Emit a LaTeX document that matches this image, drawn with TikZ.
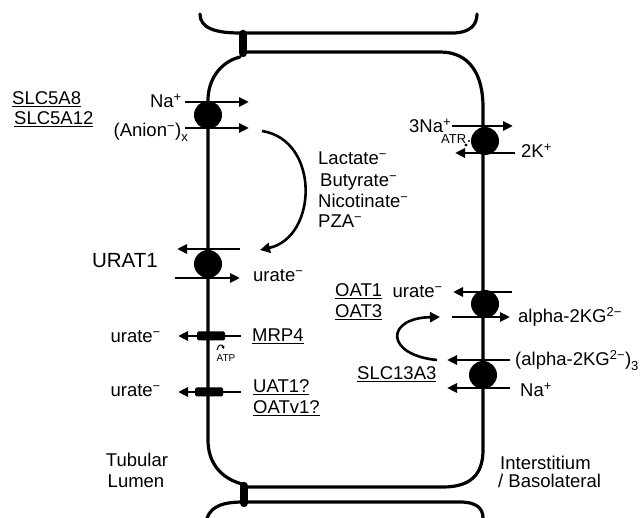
\documentclass[tikz,border=0pt]{standalone}
\usepackage{fontspec}
\setmainfont{Liberation Sans}
\usetikzlibrary{arrows.meta,calc}
\newcommand\supx[1]{\textsuperscript{#1}}
\newcommand\subx[1]{\raisebox{-0.5ex}{\fontsize{13}{13}\selectfont #1}}
\begin{document}
\begin{tikzpicture}[x=1pt,y=-1pt,
  mem/.style={line width=3.2pt, line cap=round},
  tarr/.style={line width=2.5pt, -{Triangle[length=10pt,width=9pt]}},
  carr/.style={line width=2.6pt, -{Triangle[length=10pt,width=10pt]}},
  pump/.style={circle, fill=black, inner sep=0pt, minimum size=28pt},
  lbl/.style={font=\fontsize{18.5}{21}\selectfont, inner sep=0pt},
  jbar/.style={line width=8.5pt, line cap=round},
  gbox/.style={fill=black, rounded corners=1.5pt, inner sep=0pt, minimum width=28pt, minimum height=9pt}
]
\useasboundingbox (0,0) rectangle (643,518);
% cells
\draw[mem] (200,14) .. controls (200,28) and (215,33) .. (240,33) -- (452,33) .. controls (470,33) and (477,25) .. (477,14);
\draw[mem] (243,52) -- (440,52) .. controls (470,52) and (483,75) .. (483,107) -- (483,450)
  .. controls (483,475) and (470,487) .. (443,487) -- (244,487);
\draw[mem] (240,57) .. controls (220,62) and (208,80) .. (208,100) -- (208,440)
  .. controls (208,462) and (220,478) .. (242,484);
\draw[mem] (207,518) .. controls (212,505) and (225,502) .. (244,502) -- (460,502) .. controls (476,502) and (483,508) .. (483,518);
\draw[jbar] (243,34) -- (243,53);
\draw[jbar] (244,486) -- (244,503);
% pumps
\node[pump] (p1) at (208,115) {};
\node[pump] (p2) at (208,264) {};
\node[gbox] (b1) at (211,336) {};
\node[gbox] (b2) at (209,392) {};
\node[pump] (p3) at (485,141) {};
\node[pump] (p4) at (485,304) {};
\node[pump] (p5) at (483,375) {};
% transport arrows
\draw[tarr] ($(p1)+(-23,-13)$) -- ($(p1)+(41,-13)$);
\draw[tarr] ($(p1)+(-23,13)$) -- ($(p1)+(41,13)$);
\draw[tarr] ($(p2)+(32,-15)$) -- ($(p2)+(-31,-15)$);
\draw[tarr] ($(p2)+(-33,14)$) -- ($(p2)+(32,14)$);
\draw[tarr] ($(b1)+(30,0)$) -- ($(b1)+(-33,0)$);
\draw[tarr] ($(b2)+(32,0)$) -- ($(b2)+(-31,0)$);
\draw[tarr] ($(p3)+(-33,-15)$) -- ($(p3)+(28,-15)$);
\draw[tarr] ($(p3)+(30,12)$) -- ($(p3)+(-30,12)$);
\draw[tarr] ($(p4)+(27,-12)$) -- ($(p4)+(-32,-12)$);
\draw[tarr] ($(p4)+(-33,13)$) -- ($(p4)+(25,13)$);
\draw[tarr] ($(p5)+(27,-15)$) -- ($(p5)+(-36,-15)$);
\draw[tarr] ($(p5)+(27,13)$) -- ($(p5)+(-36,13)$);
% curved arrows
\draw[carr] ($(p1)+(54,16)$) .. controls ($(p1)+(112,25)$) and ($(p1)+(110,122)$) .. ($(p2)+(52,-14)$);
\draw[carr] ($(p5)+(-46,-15)$) .. controls ($(p5)+(-98,-20)$) and ($(p5)+(-98,-57)$) .. ($(p4)+(-45,13)$);
% ATP small arrows
\node[font=\fontsize{10}{10}\selectfont, inner sep=0pt] (atp) at (226,358) {ATP};
\draw[line width=1pt, -{Triangle[length=3pt,width=3pt]}] ($(atp)+(-9,-8)$) .. controls ($(atp)+(-8,-14)$) and ($(atp)+(-4,-14)$) .. ($(atp)+(-2,-9)$);
\fill (466,145) circle (1.6);
\fill (469,141) circle (1.2);
% labels left
\node[lbl, anchor=base east] (na1) at (182,108) {Na\supx{+}};
\node[lbl, anchor=base east] (an1) at (188,137) {(Anion\supx{−})\subx{x}};
\node[lbl, anchor=base west] (slc8) at (12,105) {\underline{SLC5A8}};
\node[lbl, anchor=base west] (slc12) at (14,125) {\underline{SLC5A12}};
\node[lbl, anchor=base west] (lac) at (318,165) {Lactate\supx{−}};
\node[lbl, anchor=base west] (but) at (320,187) {Butyrate\supx{−}};
\node[lbl, anchor=base west] (nic) at (318,208) {Nicotinate\supx{−}};
\node[lbl, anchor=base west] (pza) at (318,228) {PZA\supx{−}};
\node[lbl, font=\fontsize{20.5}{22}\selectfont, anchor=base east] (urat) at (158,268) {URAT1};
\node[lbl, anchor=base west] (ur1) at (253,282) {urate\supx{−}};
\node[lbl, anchor=base east] (ur2) at (161,343) {urate\supx{−}};
\node[lbl, anchor=base west] (mrp) at (252,342) {\underline{MRP4}};
\node[lbl, anchor=base east] (ur3) at (161,397) {urate\supx{−}};
\node[lbl, anchor=base west] (uat) at (253,393) {\underline{UAT1?}};
\node[lbl, anchor=base west] (oatv) at (253,414) {\underline{OATv1?}};
\node[lbl, anchor=base] (tub) at (137,467) {Tubular};
\node[lbl, anchor=base] (lum) at (136,488) {Lumen};
% labels right
\node[lbl, anchor=base west] (na3) at (409,133) {3Na\supx{+}};
\node[font=\fontsize{13}{13}\selectfont, inner sep=0pt, anchor=base west] (atr) at (441,144) {ATR};
\node[lbl, anchor=base west] (k2) at (521,158) {2K\supx{+}};
\node[lbl, anchor=base east] (ur4) at (443,298) {urate\supx{−}};
\node[lbl, anchor=base west] (akg) at (518,323) {alpha-2KG\supx{2−}};
\node[lbl, anchor=base west] (oat1) at (335,297) {\underline{OAT1}};
\node[lbl, anchor=base west] (oat3) at (335,318) {\underline{OAT3}};
\node[lbl, anchor=base west] (akg3) at (515,366) {(alpha-2KG\supx{2−})\subx{3}};
\node[lbl, anchor=base west] (na5) at (520,397) {Na\supx{+}};
\node[lbl, anchor=base west] (slc13) at (357,380) {\underline{SLC13A3}};
\node[lbl, anchor=base west] (inter) at (500,470) {Interstitium};
\node[lbl, anchor=base west] (baso) at (498,488) {/ Basolateral};
\end{tikzpicture}
\end{document}
